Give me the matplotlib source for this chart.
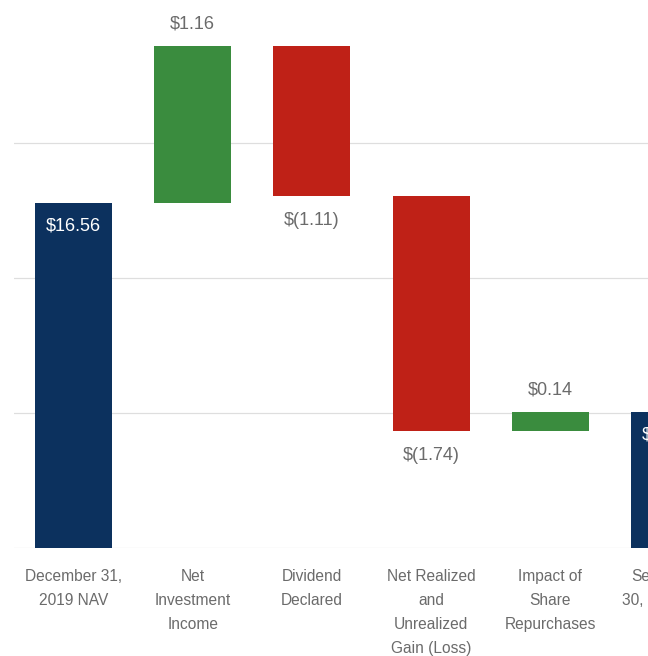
import matplotlib
matplotlib.use("Agg")
import matplotlib.pyplot as plt
import numpy as np

categories = ["December 31,\n2019 NAV", "Net\nInvestment\nIncome", "Dividend\nDeclared",
              "Net Realized\nand\nUnrealized\nGain (Loss)", "Impact of\nShare\nRepurchases",
              "September\n30, 2020 NAV"]
start_nav = 16.56
changes = [1.16, -1.11, -1.74, 0.14]

NAVY = "#0c315e"
GREEN = "#3a8c3e"
RED = "#bf2117"
GREY_TEXT = "#6b6b6b"

plt.rcParams["font.family"] = ["Liberation Sans", "DejaVu Sans"]


def money(v):
    return "${:.2f}".format(v) if v >= 0 else "$({:.2f})".format(-v)


end_nav = round(start_nav + sum(changes), 2)
levels = np.cumsum([start_nav] + changes)

fig = plt.figure(figsize=(9, 656 / 72), dpi=72)
ax = fig.add_axes([14 / 648, 108 / 656, 715 / 648, 537 / 656])
ymin = 14.0

x = np.arange(len(categories))
w = 0.646

# opening and closing NAV
for i, v in [(0, start_nav), (len(categories) - 1, end_nav)]:
    ax.bar(x[i], v - ymin, bottom=ymin, width=w, color=NAVY, zorder=3)
    ax.annotate(money(v), (x[i], v), xytext=(0, -23), textcoords="offset points",
                ha="center", va="center", color="white", fontsize=18)

# changes float between running levels
for k, d in enumerate(changes):
    i = k + 1
    prev = levels[k]
    lo, hi = min(prev, prev + d), max(prev, prev + d)
    ax.bar(x[i], hi - lo, bottom=lo, width=w, color=GREEN if d > 0 else RED, zorder=3)
    if d > 0:
        ax.annotate(money(d), (x[i], hi), xytext=(0, 22), textcoords="offset points",
                    ha="center", va="center", color=GREY_TEXT, fontsize=18,
                    annotation_clip=False)
    else:
        ax.annotate(money(d), (x[i], lo), xytext=(0, -25), textcoords="offset points",
                    ha="center", va="center", color=GREY_TEXT, fontsize=18)

ax.set_xlim(-0.5, len(categories) - 0.5)
ax.set_ylim(ymin, 17.98)
ax.set_yticks([14, 15, 16, 17])
ax.yaxis.grid(True, color="#dedede", lw=1.2, zorder=0)
ax.tick_params(axis="y", left=False, labelleft=False)
ax.set_xticks(x)
ax.set_xticklabels(categories, fontsize=15.5, color=GREY_TEXT, linespacing=1.75)
ax.tick_params(axis="x", length=0, pad=21)
for s in ax.spines.values():
    s.set_visible(False)

fig.savefig("out.png", dpi=72)
